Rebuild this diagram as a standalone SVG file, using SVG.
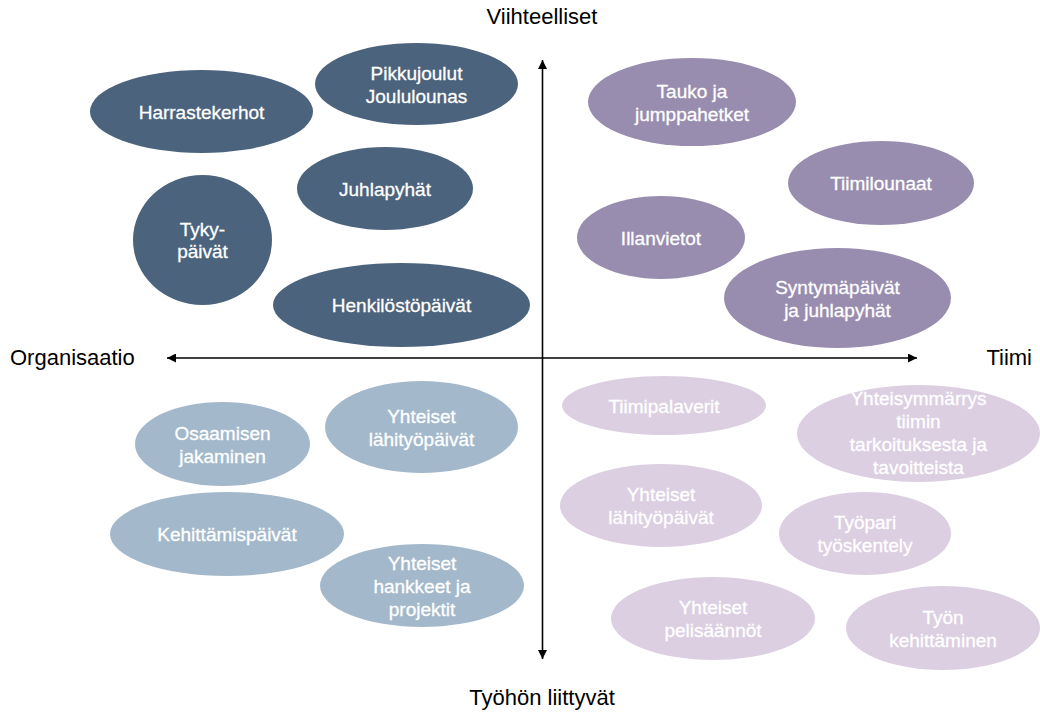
<svg xmlns="http://www.w3.org/2000/svg" width="1040" height="712" viewBox="0 0 1040 712">
<defs>
<marker id="ah" viewBox="0 0 10 10" refX="10" refY="5" markerWidth="10" markerHeight="9" markerUnits="userSpaceOnUse" orient="auto">
<path d="M0,0 L10,5 L0,10 Z" fill="#000"/>
</marker>
<style>
.t{font-family:"Liberation Sans",Arial,sans-serif;font-size:19px;fill:#fff;stroke:#fff;stroke-width:0.3;text-anchor:middle}
.ax{font-family:"Liberation Sans",Arial,sans-serif;font-size:22px;fill:#000}
.a{fill:#4b637c}
.b{fill:#998daf}
.c{fill:#a3b9cb}
.d{fill:#dccfe2}
.l{stroke:#000;stroke-width:1.6;fill:none}
</style>
</defs>
<rect width="1040" height="712" fill="#fff"/>
<g id="connectors">
<line class="l" x1="542.5" y1="358" x2="542.5" y2="60" marker-end="url(#ah)"/>
<line class="l" x1="542.5" y1="358" x2="542.5" y2="659" marker-end="url(#ah)"/>
<line class="l" x1="542.5" y1="358" x2="167" y2="358" marker-end="url(#ah)"/>
<line class="l" x1="542.5" y1="358" x2="917" y2="358" marker-end="url(#ah)"/>
</g>
<g id="labels">
<text class="ax" x="542" y="24" text-anchor="middle">Viihteelliset</text>
<text class="ax" x="10" y="365">Organisaatio</text>
<text class="ax" x="1032" y="365" text-anchor="end">Tiimi</text>
<text class="ax" x="542" y="705" text-anchor="middle">Työhön liittyvät</text>
</g>
<g id="n-harrastekerhot"><ellipse class="a" cx="201.5" cy="111.5" rx="111.5" ry="41.5"/><text class="t" x="201.5" y="118.5">Harrastekerhot</text></g>
<g id="n-pikkujoulut"><ellipse class="a" cx="416.5" cy="84" rx="101.5" ry="41"/><text class="t" x="416.5" y="79.5">Pikkujoulut</text><text class="t" x="416.5" y="102.5">Joululounas</text></g>
<g id="n-juhlapyhat"><ellipse class="a" cx="385" cy="188.5" rx="88" ry="41.5"/><text class="t" x="385" y="195.5">Juhlapyhät</text></g>
<g id="n-tyky"><ellipse class="a" cx="202.5" cy="240" rx="69.5" ry="65"/><text class="t" x="202.5" y="235.5">Tyky-</text><text class="t" x="202.5" y="258">päivät</text></g>
<g id="n-henkilosto"><ellipse class="a" cx="401.5" cy="305" rx="128.5" ry="42"/><text class="t" x="401.5" y="312">Henkilöstöpäivät</text></g>
<g id="n-tauko"><ellipse class="b" cx="692" cy="102" rx="104" ry="44"/><text class="t" x="692" y="97.5">Tauko ja</text><text class="t" x="692" y="120.5">jumppahetket</text></g>
<g id="n-tiimilounaat"><ellipse class="b" cx="881" cy="183" rx="93" ry="42"/><text class="t" x="881" y="190">Tiimilounaat</text></g>
<g id="n-illanvietot"><ellipse class="b" cx="661" cy="237.5" rx="84" ry="41.5"/><text class="t" x="661" y="244.5">Illanvietot</text></g>
<g id="n-syntymapaivat"><ellipse class="b" cx="837.5" cy="298" rx="113.5" ry="50"/><text class="t" x="837.5" y="293.5">Syntymäpäivät</text><text class="t" x="837.5" y="316.5">ja juhlapyhät</text></g>
<g id="n-osaamisen"><ellipse class="c" cx="222.5" cy="444" rx="87.5" ry="42"/><text class="t" x="222.5" y="439.5">Osaamisen</text><text class="t" x="222.5" y="462.5">jakaminen</text></g>
<g id="n-lahityo-org"><ellipse class="c" cx="421.5" cy="427" rx="96.5" ry="46"/><text class="t" x="421.5" y="422.5">Yhteiset</text><text class="t" x="421.5" y="445.5">lähityöpäivät</text></g>
<g id="n-kehittamispaivat"><ellipse class="c" cx="227" cy="534" rx="117" ry="42"/><text class="t" x="227" y="541">Kehittämispäivät</text></g>
<g id="n-hankkeet"><ellipse class="c" cx="422" cy="585.5" rx="102" ry="41.5"/><text class="t" x="422" y="569.5">Yhteiset</text><text class="t" x="422" y="592.5">hankkeet ja</text><text class="t" x="422" y="615.5">projektit</text></g>
<g id="n-tiimipalaverit"><ellipse class="d" cx="664" cy="405.5" rx="102" ry="29.5"/><text class="t" x="664" y="412.5">Tiimipalaverit</text></g>
<g id="n-yhteisymmarrys"><ellipse class="d" cx="918.5" cy="433.5" rx="121.5" ry="48.5"/><text class="t" x="918.5" y="405">Yhteisymmärrys</text><text class="t" x="918.5" y="428">tiimin</text><text class="t" x="918.5" y="451">tarkoituksesta ja</text><text class="t" x="918.5" y="474">tavoitteista</text></g>
<g id="n-lahityo-tiimi"><ellipse class="d" cx="661" cy="505.5" rx="101" ry="41.5"/><text class="t" x="661" y="501">Yhteiset</text><text class="t" x="661" y="524">lähityöpäivät</text></g>
<g id="n-tyopari"><ellipse class="d" cx="865" cy="533.5" rx="86" ry="41.5"/><text class="t" x="865" y="529">Työpari</text><text class="t" x="865" y="552">työskentely</text></g>
<g id="n-pelisaannot"><ellipse class="d" cx="713" cy="618.5" rx="102" ry="41.5"/><text class="t" x="713" y="614">Yhteiset</text><text class="t" x="713" y="637">pelisäännöt</text></g>
<g id="n-tyon-kehittaminen"><ellipse class="d" cx="943" cy="628" rx="97" ry="42"/><text class="t" x="943" y="623.5">Työn</text><text class="t" x="943" y="646.5">kehittäminen</text></g>
</svg>
